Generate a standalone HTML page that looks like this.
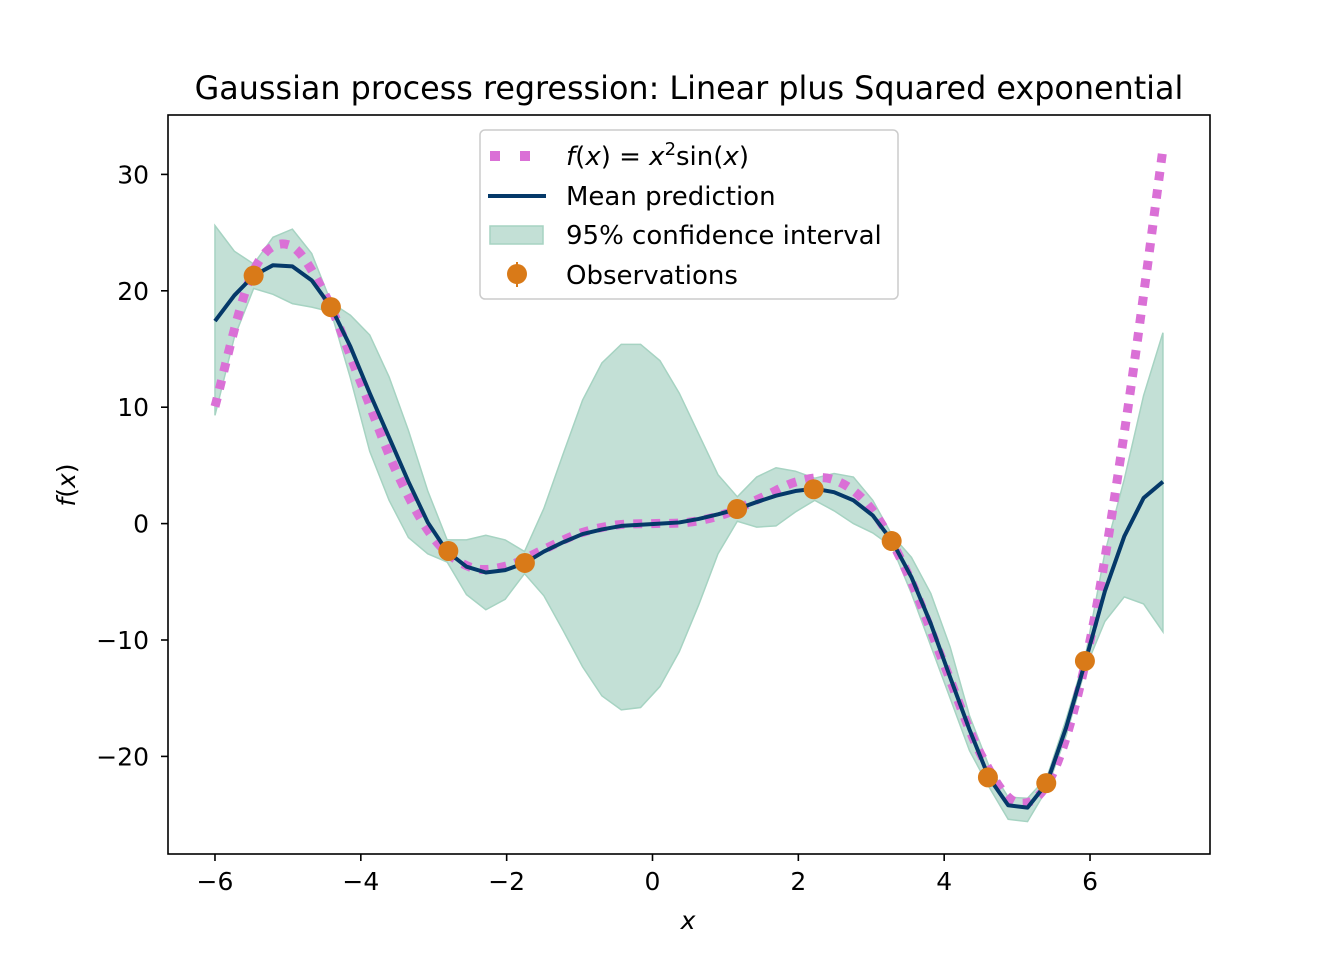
<!DOCTYPE html>
<html><head><meta charset="utf-8"><style>
body{margin:0;background:#fff}
svg{display:block;font-family:"DejaVu Sans","Liberation Sans",sans-serif}
</style></head><body>
<svg id="chart" width="1344" height="960" viewBox="0 0 1344 960">
<rect width="1344" height="960" fill="#fff"/>
<text x="689" y="99" text-anchor="middle" font-size="31.8" fill="#000">Gaussian process regression: Linear plus Squared exponential</text>
<g id="plot"></g>
<text x="688" y="929" text-anchor="middle" font-size="25" font-style="italic">x</text>
<text transform="translate(75,485) rotate(-90)" text-anchor="middle" font-size="25"><tspan font-style="italic">f</tspan>(<tspan font-style="italic">x</tspan>)</text>
<g>
<rect x="480" y="130" width="418" height="169" rx="5" fill="#fff" fill-opacity="0.8" stroke="#ccc" stroke-width="1.5"/>
<g>
<line x1="490" y1="156" x2="545" y2="156" stroke="#da70d6" stroke-width="10" stroke-dasharray="10,20"/>
<text x="566" y="165" font-size="26"><tspan font-style="italic">f</tspan>(<tspan font-style="italic">x</tspan>) = <tspan font-style="italic">x</tspan><tspan dy="-10" font-size="18">2</tspan><tspan dy="10">sin(</tspan><tspan font-style="italic">x</tspan>)</text>
</g>
<g>
<line x1="488" y1="196" x2="546" y2="196" stroke="#053969" stroke-width="4"/>
<text x="566" y="205" font-size="26">Mean prediction</text>
</g>
<g>
<rect x="490" y="226" width="53" height="18" fill="#c3e0d6" stroke="#a6d3c2" stroke-width="1.5"/>
<text x="566" y="244" font-size="26">95% confidence interval</text>
</g>
<g>
<line x1="517" y1="262" x2="517" y2="287" stroke="#d97a18" stroke-width="2"/>
<circle cx="517" cy="274" r="10" fill="#d97a18"/>
<text x="566" y="284" font-size="26">Observations</text>
</g>
</g>
</svg>
<script>
const xTicks=[-6,-4,-2,0,2,4,6];
const yTicks=[-20,-10,0,10,20,30];
const trueX=[-6,-5.5,-5,-4.5,-4,-3.5,-3,-2.5,-2,-1.5,-1,-0.5,0,0.5,1,1.5,2,2.5,3,3.5,4,4.5,5,5.5,6,6.5,7];
const trueY=[10.06,21.34,23.97,19.79,12.11,4.30,-1.27,-3.74,-3.64,-2.24,-0.84,-0.12,0,0.12,0.84,2.24,3.64,3.74,1.27,-4.30,-12.11,-19.79,-23.97,-21.34,-10.06,9.09,32.19];
const meanY=[17.4,19.6,21.3,22.2,22.1,20.9,18.6,15.2,11.2,7.4,3.6,0.1,-2.4,-3.7,-4.2,-4.0,-3.4,-2.4,-1.6,-0.9,-0.5,-0.2,-0.1,0,0.1,0.4,0.8,1.25,1.85,2.4,2.8,3.0,2.7,2.0,0.7,-1.5,-4.6,-8.6,-13.2,-17.7,-21.8,-24.2,-24.4,-22.3,-17.5,-11.8,-5.8,-1.1,2.2,3.6];
const upperY=[25.6,23.4,22.3,24.6,25.3,23.2,19.0,17.9,16.2,12.6,8.0,2.8,-1.4,-1.4,-1.0,-1.4,-2.4,1.3,6.0,10.6,13.8,15.4,15.4,14.0,11.2,7.7,4.2,2.3,4.0,4.8,4.5,3.9,4.3,4.0,2.0,-1.0,-2.9,-6.0,-10.6,-16.5,-20.8,-23.5,-23.6,-21.8,-16.8,-11.3,-2.5,3.8,11.0,16.4];
const lowerY=[9.3,16.0,20.2,19.7,18.9,18.6,18.2,12.5,6.2,2.0,-1.2,-2.6,-3.3,-6.1,-7.4,-6.5,-4.3,-6.2,-9.2,-12.3,-14.8,-16.0,-15.8,-14.0,-11.0,-7.0,-2.6,0.2,-0.3,-0.2,1.0,2.0,1.1,0.0,-0.8,-2.0,-6.0,-10.5,-15.0,-19.5,-22.6,-25.4,-25.6,-22.8,-18.2,-12.4,-8.4,-6.3,-6.9,-9.3];
const obsX=[-5.47,-4.41,-2.80,-1.75,1.16,2.21,3.28,4.60,5.40,5.93];
const obsY=[21.3,18.6,-2.35,-3.38,1.25,2.95,-1.5,-21.8,-22.3,-11.8];

const L=168,R=1210,T=115,B=854;
const sx=v=>652.5+v*72.92;
const sy=v=>523.6-v*11.64;
const NS='http://www.w3.org/2000/svg';
const plot=document.getElementById('plot');
function mk(tag,attrs){const e=document.createElementNS(NS,tag);for(const k in attrs)e.setAttribute(k,attrs[k]);return e;}
const gridX=meanY.map((_,i)=>-6+i*13/(meanY.length-1));

let d='M'+gridX.map((x,i)=>sx(x)+','+sy(upperY[i])).join('L');
for(let i=gridX.length-1;i>=0;i--)d+='L'+sx(gridX[i])+','+sy(lowerY[i]);
d+='Z';
const band=mk('path',{d:d,fill:'#c3e0d6',stroke:'#a6d3c2','stroke-width':1.5});


plot.appendChild(band);

const pts=trueX.map((x,i)=>[sx(x),sy(trueY[i])]);
let td='M'+pts[0].join(',');
for(let i=0;i<pts.length-1;i++){
 const p0=pts[Math.max(0,i-1)],p1=pts[i],p2=pts[i+1],p3=pts[Math.min(pts.length-1,i+2)];
 const c1=[p1[0]+(p2[0]-p0[0])/6,p1[1]+(p2[1]-p0[1])/6];
 const c2=[p2[0]-(p3[0]-p1[0])/6,p2[1]-(p3[1]-p1[1])/6];
 td+='C'+c1.join(',')+' '+c2.join(',')+' '+p2.join(',');
}
const tl=mk('path',{d:td,fill:'none',stroke:'#da70d6','stroke-width':9,'stroke-dasharray':'9,9'});


plot.appendChild(tl);

const ml=mk('polyline',{points:gridX.map((x,i)=>sx(x)+','+sy(meanY[i])).join(' '),fill:'none',stroke:'#053969','stroke-width':4,'stroke-linejoin':'round'});


plot.appendChild(ml);

obsX.forEach((x,i)=>{
 const c=mk('circle',{cx:sx(x),cy:sy(obsY[i]),r:10,fill:'#d97a18'});
 
 
 plot.appendChild(c);
});

const fr=mk('rect',{x:L,y:T,width:R-L,height:B-T,fill:'none',stroke:'#000','stroke-width':1.6});


plot.appendChild(fr);

xTicks.forEach(v=>{
 const t=mk('line',{x1:sx(v),x2:sx(v),y1:B,y2:B+7,stroke:'#000','stroke-width':1.6});
 
 
 plot.appendChild(t);
 const tx=mk('text',{x:sx(v),y:B+36,'text-anchor':'middle','font-size':25});
 tx.textContent=(v<0?'\u2212':'')+Math.abs(v);
 
 
 plot.appendChild(tx);
});
yTicks.forEach(v=>{
 const t=mk('line',{x1:L-7,x2:L,y1:sy(v),y2:sy(v),stroke:'#000','stroke-width':1.6});
 
 
 plot.appendChild(t);
 const tx=mk('text',{x:L-19,y:sy(v)+9,'text-anchor':'end','font-size':25});
 tx.textContent=(v<0?'\u2212':'')+Math.abs(v);
 
 
 plot.appendChild(tx);
});
</script>
</body></html>
